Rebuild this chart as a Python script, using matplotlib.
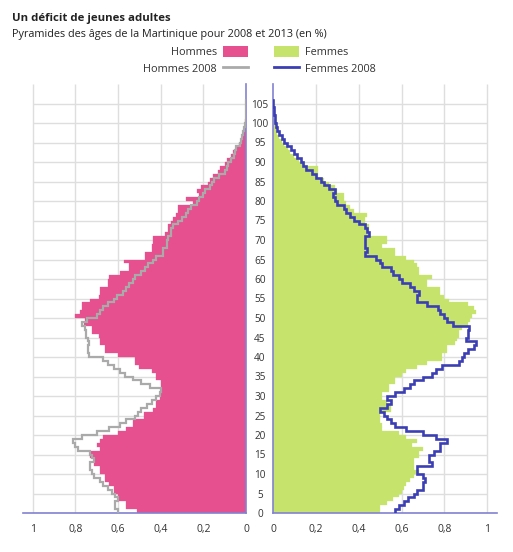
import numpy as np
import matplotlib
matplotlib.use("Agg")
import matplotlib.pyplot as plt
from matplotlib.patches import Patch
from matplotlib.lines import Line2D

plt.rcParams['font.family'] = ['Open Sans', 'DejaVu Sans']

# ---------------- data (ages 0..105, % of population) ----------------
ages = np.arange(106)

hommes_2013 = [
    0.51, 0.56, 0.56, 0.60, 0.60, 0.62, 0.62, 0.64, 0.66, 0.66,
    0.685, 0.685, 0.71, 0.71, 0.73, 0.73, 0.685, 0.70, 0.685, 0.67,
    0.60, 0.56, 0.53, 0.53, 0.48, 0.48, 0.435, 0.42, 0.42, 0.405,
    0.405, 0.40, 0.40, 0.40, 0.42, 0.42, 0.44, 0.50, 0.52, 0.52,
    0.60, 0.66, 0.66, 0.685, 0.685, 0.69, 0.72, 0.72, 0.76, 0.755,
    0.80, 0.78, 0.77, 0.77, 0.73, 0.69, 0.685, 0.685, 0.645, 0.645,
    0.64, 0.59, 0.55, 0.55, 0.57, 0.475, 0.475, 0.44, 0.44, 0.435,
    0.435, 0.38, 0.365, 0.365, 0.35, 0.34, 0.33, 0.32, 0.32, 0.25,
    0.28, 0.22, 0.23, 0.21, 0.18, 0.17, 0.155, 0.13, 0.12, 0.10,
    0.09, 0.07, 0.06, 0.045, 0.035, 0.025, 0.015, 0.01, 0.008, 0.005,
    0.003, 0.002, 0.001, 0.0005, 0.0, 0.0]

hommes_2008 = [
    0.60, 0.615, 0.615, 0.60, 0.615, 0.63, 0.645, 0.67, 0.685, 0.71,
    0.72, 0.73, 0.73, 0.71, 0.72, 0.73, 0.785, 0.80, 0.81, 0.77,
    0.70, 0.64, 0.59, 0.56, 0.52, 0.505, 0.49, 0.465, 0.44, 0.42,
    0.405, 0.40, 0.45, 0.49, 0.53, 0.565, 0.59, 0.62, 0.645, 0.67,
    0.735, 0.74, 0.74, 0.735, 0.74, 0.75, 0.75, 0.755, 0.77, 0.745,
    0.70, 0.685, 0.67, 0.645, 0.62, 0.605, 0.575, 0.56, 0.55, 0.53,
    0.52, 0.49, 0.475, 0.46, 0.435, 0.42, 0.39, 0.39, 0.37, 0.37,
    0.365, 0.35, 0.35, 0.34, 0.32, 0.30, 0.28, 0.27, 0.26, 0.23,
    0.22, 0.20, 0.19, 0.17, 0.16, 0.15, 0.125, 0.10, 0.09, 0.085,
    0.07, 0.055, 0.05, 0.045, 0.03, 0.025, 0.02, 0.015, 0.008, 0.005,
    0.002, 0.0, 0.0, 0.0, 0.0, 0.0]

femmes_2013 = [
    0.50, 0.50, 0.53, 0.56, 0.59, 0.60, 0.61, 0.62, 0.64, 0.66,
    0.68, 0.66, 0.66, 0.66, 0.68, 0.68, 0.70, 0.65, 0.67, 0.62,
    0.59, 0.51, 0.51, 0.50, 0.50, 0.50, 0.55, 0.55, 0.53, 0.51,
    0.51, 0.54, 0.54, 0.57, 0.57, 0.60, 0.62, 0.67, 0.72, 0.79,
    0.79, 0.81, 0.81, 0.85, 0.86, 0.87, 0.87, 0.88, 0.91, 0.92,
    0.93, 0.945, 0.94, 0.91, 0.82, 0.80, 0.78, 0.78, 0.72, 0.72,
    0.74, 0.68, 0.68, 0.67, 0.66, 0.62, 0.57, 0.57, 0.51, 0.53,
    0.53, 0.45, 0.45, 0.45, 0.43, 0.43, 0.44, 0.38, 0.36, 0.34,
    0.33, 0.33, 0.30, 0.29, 0.26, 0.24, 0.21, 0.21, 0.21, 0.15,
    0.12, 0.10, 0.08, 0.07, 0.05, 0.04, 0.03, 0.02, 0.015, 0.01,
    0.008, 0.005, 0.003, 0.002, 0.001, 0.0005]

femmes_2008 = [
    0.57, 0.59, 0.61, 0.63, 0.66, 0.67, 0.70, 0.70, 0.71, 0.70,
    0.67, 0.67, 0.74, 0.73, 0.73, 0.75, 0.78, 0.78, 0.81, 0.76,
    0.70, 0.62, 0.57, 0.55, 0.53, 0.52, 0.50, 0.53, 0.55, 0.53,
    0.57, 0.61, 0.64, 0.66, 0.70, 0.74, 0.76, 0.79, 0.87, 0.88,
    0.89, 0.91, 0.94, 0.945, 0.90, 0.91, 0.91, 0.915, 0.84, 0.81,
    0.80, 0.78, 0.77, 0.72, 0.67, 0.67, 0.68, 0.66, 0.64, 0.60,
    0.59, 0.56, 0.55, 0.51, 0.50, 0.48, 0.43, 0.44, 0.43, 0.43,
    0.43, 0.45, 0.44, 0.43, 0.40, 0.38, 0.36, 0.34, 0.33, 0.30,
    0.29, 0.28, 0.29, 0.26, 0.24, 0.225, 0.20, 0.18, 0.155, 0.14,
    0.13, 0.11, 0.10, 0.085, 0.065, 0.05, 0.04, 0.03, 0.02, 0.015,
    0.01, 0.008, 0.005, 0.003, 0.002, 0.001]

age_ticks = list(range(0, 106, 5))
x_ticks = [0, 0.2, 0.4, 0.6, 0.8, 1]
x_labels = ['0', '0,2', '0,4', '0,6', '0,8', '1']

title = "Un déficit de jeunes adultes"
subtitle = "Pyramides des âges de la Martinique pour 2008 et 2013 (en %)"

# ---------------- style ----------------
PINK = '#e6508e'
GREEN = '#c6e46c'
GREY = '#aaaaaa'
BLUE = '#3b3fb3'
AXIS = '#8282d2'
GRID = '#dedede'

W, H = 513, 552
fig = plt.figure(figsize=(W / 100, H / 100), dpi=100)

bottom = (H - 513) / H
height = 429 / H
ax_l = fig.add_axes([23 / W, bottom, (246 - 23) / W, height])
ax_r = fig.add_axes([273 / W, bottom, (497 - 273) / W, height])


def step_xy(vals):
    v = np.asarray(vals, dtype=float)
    yy = np.column_stack([ages, ages + 1]).ravel()
    xx = np.repeat(v, 2)
    return xx, yy


for ax, bars, line, bcol, lcol, lw in [
        (ax_l, hommes_2013, hommes_2008, PINK, GREY, 1.6),
        (ax_r, femmes_2013, femmes_2008, GREEN, BLUE, 1.9)]:
    ax.hlines(age_ticks, 0, 1, color=GRID, lw=1.0, zorder=0)
    ax.vlines(x_ticks[1:], 0, 110, color=GRID, lw=1.0, zorder=0)
    ax.barh(ages, bars, height=1.0, align='edge', color=bcol,
            edgecolor=bcol, linewidth=0.2, zorder=2)
    xx, yy = step_xy(line)
    ax.plot(xx, yy, color=lcol, lw=lw, zorder=3, solid_joinstyle='miter')
    ax.set_ylim(0, 110)
    for s in ax.spines.values():
        s.set_visible(False)
    ax.spines['bottom'].set_visible(True)
    ax.spines['bottom'].set_color(AXIS)
    ax.spines['bottom'].set_linewidth(1.2)
    ax.set_xticks(x_ticks)
    ax.tick_params(axis='x', length=0, pad=8, labelsize=7.5, colors='#333333')
    ax.set_facecolor('none')

ax_l.set_xlim(1.045, 0)
ax_l.set_xticklabels(x_labels)
ax_l.spines['right'].set_visible(True)
ax_l.spines['right'].set_color(AXIS)
ax_l.spines['right'].set_linewidth(1.2)
ax_l.set_yticks([])

ax_r.set_xlim(0, 1.045)
ax_r.set_xticklabels(x_labels)
ax_r.spines['left'].set_visible(True)
ax_r.spines['left'].set_color(AXIS)
ax_r.spines['left'].set_linewidth(1.2)
ax_r.set_yticks(age_ticks)
ax_r.set_yticklabels([str(a) for a in age_ticks])
ax_r.tick_params(axis='y', length=0, pad=9.4, labelsize=7.2, colors='#333333')
for lab in ax_r.get_yticklabels():
    lab.set_ha('center')

# titles
fig.text(12 / W, 1 - 19 / H, title, fontsize=8.2, fontweight='bold',
         va='center', ha='left', color='#222222')
fig.text(12 / W, 1 - 35 / H, subtitle, fontsize=7.8,
         va='center', ha='left', color='#222222')

# legends
fs = 7.8
h_l = [Patch(facecolor=PINK, edgecolor='none'), Line2D([], [], color=GREY, lw=2)]
h_r = [Patch(facecolor=GREEN, edgecolor='none'), Line2D([], [], color=BLUE, lw=2)]
common = dict(frameon=False, fontsize=fs, handlelength=2.3, handleheight=1.2,
              labelspacing=0.42, handletextpad=0.55, borderaxespad=0,
              borderpad=0)
leg1 = fig.legend(h_l, ['Hommes', 'Hommes 2008'], loc='upper right',
                  bbox_to_anchor=(248 / W, 1 - 46 / H), markerfirst=False,
                  **common)
leg2 = fig.legend(h_r, ['Femmes', 'Femmes 2008'], loc='upper left',
                  bbox_to_anchor=(274 / W, 1 - 46 / H), markerfirst=True,
                  **common)
for t in leg1.get_texts() + leg2.get_texts():
    t.set_color('#333333')
for t in leg1.get_texts():
    t.set_ha('right')

fig.savefig('out.png', dpi=100)
